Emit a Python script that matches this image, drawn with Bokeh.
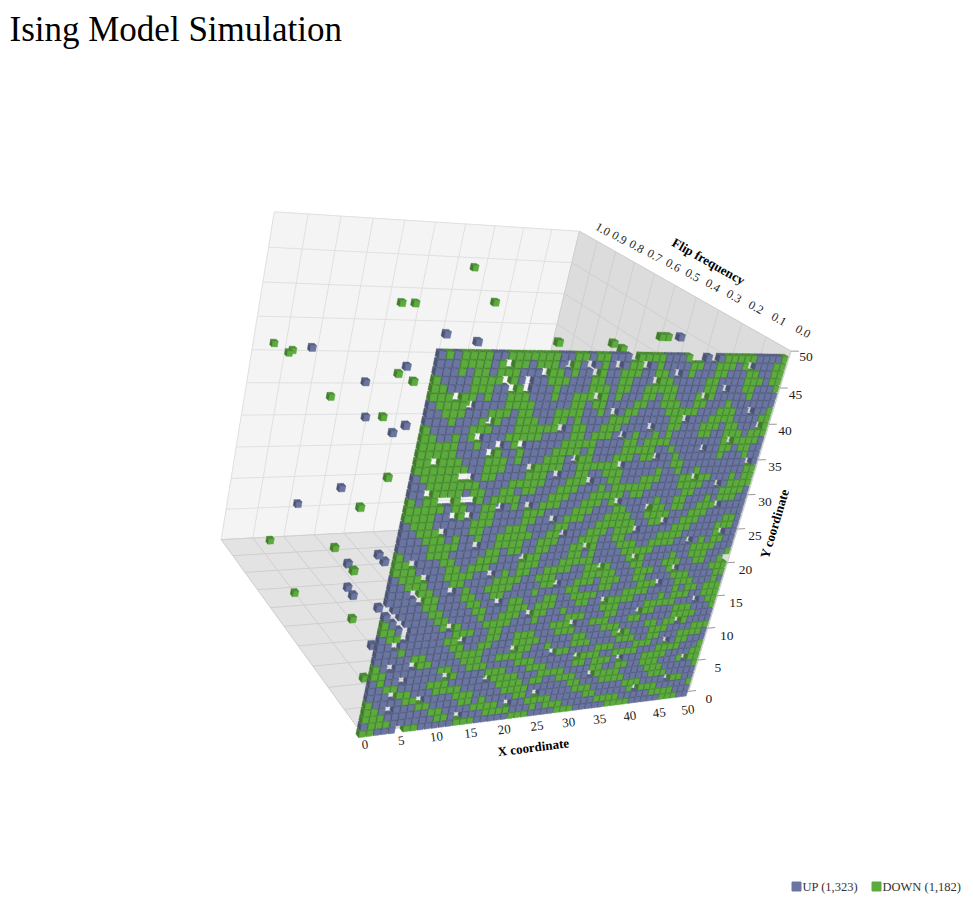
import math
import numpy as np
from bokeh.plotting import figure
from bokeh.models import Range1d, ColumnDataSource
from bokeh.core.properties import value
from bokeh.embed import file_html
from bokeh.resources import INLINE

# ---- data ---------------------------------------------------------------
TITLE = "Ising Model Simulation"
SERIES_NAMES = ["UP", "DOWN"]
SERIES_COUNTS = [1323, 1182]
SPIN_COLORS = {"U": "#6a76a1", "D": "#5bab3d"}

X_TICKS = [0, 5, 10, 15, 20, 25, 30, 35, 40, 45, 50]
Y_TICKS = [0, 5, 10, 15, 20, 25, 30, 35, 40, 45, 50]
Z_TICKS = [0.0, 0.1, 0.2, 0.3, 0.4, 0.5, 0.6, 0.7, 0.8, 0.9, 1.0]

# spin of every lattice site, one string per row, top row (y = 49) first
SPINS = [
    "UDUDDDDUUD DDDDDDUUDD UDDUUUUDDD DUUUDDDUUU DDDDDUUUUD",
    "UUUDDDDUDD DDUDDDUUDU UUDUUUDDDU DUUUUDDUUD DDUDDUUUDD",
    "UUUDUDDUDD DUUUDDDUDU UUDUUDDDUU DDUUUDUUUD DUUUDDUUDD",
    "DUUUUDDDDU DUUUUDDDUU UDDUUDDUUU DDDUUUUUDD UUUUDDDUDD",
    "DDUUUDDDUU DDUUUUDUUU UDDDUDDUUD DDDDUUUUDD UUUUDDUUUD",
    "DDDUDDUDUU DDDUUUDUUD DDDDUDUUUD DUDDUUUDDD UUUUUDUUUU",
    "UDDDDDUUUU DDDDUUUUUD DUDDUUUUDD UUDDDUUDDU UUDUUUUUUU",
    "UUDDDUUUDD DUDDUUUDDD DUUDUUUDDU UUUDDDDDUU UDDDUUUUUD",
    "UUUDUUUDDD UUDDDUUDDU DUUUUDDDUU UUUUDDDUUU DDDDUUUUDD",
    "DUUUUUDDDU UUDDDDDDUU DDUUDDDUUU UUUUDDUUUD DDUDDUUUDD",
    "DDUUDUDDUU UDDDDDUUUU DDUDDDUUUD UUDUDUUUUD DUUDDDUDDD",
    "DDDDDUUDUU UUDDUUUUUD DDDDUUUUDD UDDDDUUUUU UUUDDDDDDU",
    "DDDDDUUUUU DUUDUUUUDD DDUDUUUUDD DDDUUDUUUU UUUDDUDDUU",
    "DDDDDDUUUD DDUDUUUDDD UDDDUUUDDD UDDUUUDUUU UUUDUUUDUU",
    "DDDDDDDUUD DDUUUUDDDD UUDDDDDDUU UUUUUUDDUU UUUUUUUUDU",
    "UDDDDDDDUD DUUUUDDDUU UUDDUUDDDU UUUUDUUDUU DUUUUUUUDD",
    "UUDDDDDDDU UUUDDDDDUU UDDDUUUDDU UUDDDUUUDD DDDUUUDUDD",
    "UUDDDDDUDD UUDDUDDUUU DDDUUUDUDD DDDDUUUUDD DDUUUUDDDD",
    "DUDDDDDUUD UDDDDUUUUD DDUUUDDDDD UDDUUUUUUD DUUUUDDDDU",
    "DDDDDUDDUU DDDUDUUUDD DUUUDDDUDD UUUUUDUUDD UUUDUDDDUU",
    "DDDDUUUDDU DDUUUUDDDU UUUDDDUUUD DUUUDDDUDD UUDDDDUUUU",
    "UDDDUUUUUD DDUUUUDDUU UUDDDUUUDD DDUUDDDDUU UDDDUUUUUU",
    "UUDDDUUUUD DUUUDDDUUU UDDUUUUDDD DDDUUDDUUU DDDUUUUDDU",
    "UUUDDDUDUU DUUDDDDDUU DDDUUUDDDU DDDUUUUUUD DDUUUUDDDU",
    "UUUUDDDDUU UUUDDDDUUD DDUUUDDDUU DDUUUUUDDD DUUUUUDDUU",
    "DUUUDDDUUU UUDDUDDUUD DUUUDDDDUU UDDDUUDDDD UUUUDUDDUU",
    "DDUUUUDDUU UDDDUUUUDD UUUUDDUDUU UUDDDDDUUU UUUDDDDUUU",
    "DDDUUUUDDU DDDUUUUDDD UUUDDDDDUU UUUDDDUUUU DUUDDDUUUD",
    "UDDDUUUDDD DUUUUDUDDU UDDDDUUDDU DUUUDDUUUD DDUUDDUUDD",
    "UUDDDUUUDD UUUUDDDDUU DDDUUUUDDD DDUUUDDDUU DDUUUUUDDD",
    "UUUDDDUUUU DUUDDDDUUU UDDUUUDDDU DDDUUDDUUU UDDDUUUUDD",
    "UUUUDDDUUU DDUUDDUUUU DUUUUDDUUU DDUUUUDDDU UUDDDUUUDU",
    "UUUUUDDUUU UDDUUUUDDU UUDDUUDDDD UUUUDDDDUU UUDUDDUDDD",
    "UUUUUUDDUU UUDDUUUDDD UDDDUUUDDU UUDDDDUUUU DUDDDUUDDD",
    "DUUUUUUDDU UUUDUUDDDU DDDUUDUUUU UDDDUUUUDD DDDUUUUUDD",
    "DDUUUUUUDU DUUUDDDDUU UDUUUUDDDU UUDDUUUDDD UUUDDDUUUD",
    "UDDUUUUUUU DDDUUDDUUU UUUUDDDDUU DDDUUUDDUU UUUDDDDUUU",
    "UUDUUUUUUD DUUUUDDUUD DDUUUDDDUU UUDDDUUUUD DUDDDDUUUU",
    "UUUDUUUUUU DDUUDDUUUD DDDUUUUUDD UUUUDDDUUU DDDUUUUDDD",
    "UUUUUDDUUU UDDDDUUUUD DDUUDUUUDD DUUUUDDDUU DDUUUDDDDU",
    "DUUUUUDDUU UUDDDUUDDD DUUUUDDDUU UUDDDUUUDD DUUUUDDUUU",
    "DDUUUUUUUD DUUDDDUUUU DDDUUUUUUU DDDUUDDDDU UUDDDDUUUD",
    "UDUUUUUUUU DDUUUUDDDU UUDDDUUUUD DUDDDUUUUU DDDDUUUUDD",
    "UUDDUUUUDD DUUUUUUDDD DUUUDDDDUU UUDDUUDDUU DDDUUUDDDD",
    "UUUUDDUUUD DDDUUUUUDD DDUDDUUDDD UUUDDDDUUU UDDDUUUUUD",
    "DUUUUDDDUU UUDDDUUUUD DDDUUUUUUD DUUUDDDDUU UUDDDUUUUU",
    "DDUUUUUDDU UUUDDUDUUU UDDUDUUUUU DDDUUUUUDD DUUUUDDDUU",
    "DDDUUUUUUD DUUUUDDDDU UUUDDDDUUU UUDDUUUUUD DDDDUUUUUD",
    "UDDDUUUUUU DDUUUUUDDD DUUUDUDDDU UUUUDDDDUU UUUDDDDUUU",
    "DDUUUUDDUU UUUDDDUUUU UDDDUUUUDD DUUUUUDDDD UUUUUDDDUU",
]

# sites that flipped often: x, y, flip frequency, spin
flip_x = [24, 10, 12, 9, 12, 2, 5, 4, 2, 10, 9, 7, 7, 6, 8, 8, 6, 7, 5, 4, 2,
          3, 3, 2, 1, 3, 4, 0, 5, 5, 2, 3, 4, 3, 2, 28, 26, 35, 36, 38, 20, 21]
flip_y = [48, 45, 45, 46, 46, 32, 31, 31, 36, 38, 37, 39, 34, 29, 29, 31, 34, 31,
          27, 21, 23, 14, 5, 15, 16, 19, 18, 17, 0, 9, 12, 13, 7, 3, 9, 48, 49,
          49, 49, 49, 48, 47]
flip_freq = [0.71, 0.57, 0.57, 0.29, 0.24, 0.95, 0.95, 0.93, 0.71, 0.48, 0.48,
             0.33, 0.57, 0.71, 0.57, 0.48, 0.29, 0.38, 0.29, 0.48, 0.29, 0.67,
             0.80, 0.38, 0.26, 0.19, 0.19, 0.19, 0.67, 0.38, 0.24, 0.14, 0.29,
             0.14, 0.10, 0.14, 0.05, 0.14, 0.14, 0.14, 0.14, 0.48]
flip_spin = "DDDUU DDDUU DDUDU DUUDU DUDDU UUDDU UUDDU DDDDU DD"

# sites with only a few flips
drift_x = [14, 22, 5, 30, 41, 46, 18, 27, 36, 44, 15, 24, 33, 40, 48, 12, 20,
           29, 37, 45, 10, 17, 26, 34, 42, 49, 8, 15, 23, 31, 39, 46, 11, 19,
           27, 35, 43, 7, 16, 24, 32, 40, 47, 13, 29, 38, 21, 44, 9, 33,
           3, 17, 33, 44, 8, 25, 31, 48, 13, 40, 19, 28, 44, 16, 34, 22, 47,
           13, 29, 41, 20, 37, 9, 25, 36, 45, 20, 10]
drift_y = [47, 44, 43, 46, 45, 42, 40, 39, 41, 38, 35, 33, 36, 33, 35, 30, 28,
           30, 27, 29, 25, 23, 24, 22, 24, 21, 19, 17, 19, 16, 18, 15, 12, 10,
           13, 11, 9, 4, 6, 3, 5, 2, 6, 1, 8, 44, 36, 12, 48, 26,
           44, 48, 47, 48, 41, 42, 40, 40, 38, 37, 34, 35, 32, 30, 29, 26, 25,
           21, 21, 20, 15, 14, 14, 9, 7, 3, 2, 7]
drift_freq = [0.03, 0.04, 0.02, 0.03, 0.05, 0.03, 0.04, 0.02, 0.03, 0.04,
              0.03, 0.05, 0.02, 0.03, 0.04, 0.02, 0.04, 0.03, 0.05, 0.03,
              0.03, 0.02, 0.04, 0.03, 0.02, 0.04, 0.03, 0.05, 0.02, 0.03,
              0.04, 0.03, 0.02, 0.04, 0.03, 0.02, 0.05, 0.03, 0.02, 0.04,
              0.03, 0.02, 0.04, 0.03, 0.02, 0.03, 0.02, 0.03, 0.04, 0.03,
              0.03, 0.02, 0.04, 0.03, 0.02, 0.04, 0.03, 0.02, 0.03, 0.02,
              0.03, 0.04, 0.02, 0.03, 0.04, 0.02, 0.03, 0.04, 0.02, 0.03,
              0.04, 0.02, 0.03, 0.04, 0.03, 0.02, 0.03, 0.04]
drift_spin = ("UDDUD UDUDU DUDUD UDUDU DUDUD UDUDU DUDUD UDUDU DUDUD UUDUD"
              " DUDUU DUUDU DUDUD UDUDU DUDUD UDU")

# ---- camera: where the corners of the 3d box land on the page ------------
BOX_3D = [(0, 0, 0), (50, 0, 0), (50, 50, 0), (0, 50, 0),
          (0, 0, 1), (50, 0, 1), (50, 50, 1), (0, 50, 1)]
BOX_PX = [(362, 729), (695, 695), (786, 353), (437, 340),
          (224, 548), (499, 515), (587, 235), (273, 208)]


def fit_camera():
    A, b = [], []
    for (X, Y, Z), (u, v) in zip(BOX_3D, BOX_PX):
        X, Y = X / 50, Y / 50
        A.append([X, Y, Z, 1, 0, 0, 0, 0, -u * X, -u * Y, -u * Z])
        b.append(u)
        A.append([0, 0, 0, 0, X, Y, Z, 1, -v * X, -v * Y, -v * Z])
        b.append(v)
    m = np.linalg.lstsq(np.array(A, float), np.array(b, float), rcond=None)[0]
    return np.append(m, 1.0).reshape(3, 4)


M = fit_camera()


def proj(x, y, z):
    x = np.asarray(x, float) / 50
    y = np.asarray(y, float) / 50
    z = np.asarray(z, float)
    h0 = M[0, 0] * x + M[0, 1] * y + M[0, 2] * z + M[0, 3]
    h1 = M[1, 0] * x + M[1, 1] * y + M[1, 2] * z + M[1, 3]
    h2 = M[2, 0] * x + M[2, 1] * y + M[2, 2] * z + M[2, 3]
    return h0 / h2, h1 / h2


def depth(x, y, z):
    return M[2, 0] * x / 50 + M[2, 1] * y / 50 + M[2, 2] * z + M[2, 3]


def seg(p0, p1):
    xs, ys = proj([p0[0], p1[0]], [p0[1], p1[1]], [p0[2], p1[2]])
    return list(xs), list(ys)


def screen_angle(p0, p1):
    (x0, x1), (y0, y1) = proj([p0[0], p1[0]], [p0[1], p1[1]], [p0[2], p1[2]])
    return math.atan2(-(y1 - y0), x1 - x0)


def shade(c, k):
    r, g, b = (int(c[i:i + 2], 16) for i in (1, 3, 5))
    return "#%02x%02x%02x" % (int(r * k), int(g * k), int(b * k))


# ---- lattice sites --------------------------------------------------------
freq = {}
for x, y, f, s in zip(drift_x, drift_y, drift_freq, drift_spin.replace(" ", "")):
    freq[(x, y)] = (f, s)
for x, y, f, s in zip(flip_x, flip_y, flip_freq, flip_spin.replace(" ", "")):
    freq[(x, y)] = (f, s)

sites = []
for i, row in enumerate(SPINS):
    y = 49 - i
    for x, s in enumerate(row.replace(" ", "")[:50]):
        f, s = freq.get((x, y), (0.0, s))
        sites.append((x, y, f, s))

# ---- figure (data units = page pixels) ------------------------------------
W, H = 970, 900
p = figure(width=W, height=H, x_range=Range1d(0, W), y_range=Range1d(H, 0),
           x_axis_type=None, y_axis_type=None, toolbar_location=None,
           output_backend="svg", min_border=0, outline_line_color=None)
p.background_fill_color = "white"

# walls
walls = [
    ([(0, 0, 1), (50, 0, 1), (50, 50, 1), (0, 50, 1)], "#f4f4f4"),
    ([(0, 0, 0), (50, 0, 0), (50, 0, 1), (0, 0, 1)], "#e3e3e3"),
    ([(50, 0, 0), (50, 50, 0), (50, 50, 1), (50, 0, 1)], "#dcdcdc"),
]
wx, wy, wc = [], [], []
for pts, col in walls:
    xs, ys = proj(*zip(*pts))
    wx.append(list(xs))
    wy.append(list(ys))
    wc.append(col)
p.patches(wx, wy, fill_color=wc, line_color=wc, line_width=1)

back_lines = ([seg((x, 0, 1), (x, 50, 1)) for x in X_TICKS] +
              [seg((0, y, 1), (50, y, 1)) for y in Y_TICKS])
side_lines = ([seg((x, 0, 0), (x, 0, 1)) for x in X_TICKS] +
              [seg((0, 0, z), (50, 0, z)) for z in Z_TICKS] +
              [seg((50, y, 0), (50, y, 1)) for y in Y_TICKS] +
              [seg((50, 0, z), (50, 50, z)) for z in Z_TICKS])
p.multi_line([s[0] for s in back_lines], [s[1] for s in back_lines],
             line_color="#e0e0e0", line_width=1)
p.multi_line([s[0] for s in side_lines], [s[1] for s in side_lines],
             line_color="#cfcfcf", line_width=1)

# cubes
HALF, HALF_Z = 0.42, 0.008
FACES = [  # corner bits (x, y, z) with outward winding, shade
    (((0, 0, 0), (0, 1, 0), (1, 1, 0), (1, 0, 0)), 1.0),   # front (z min)
    (((0, 0, 1), (1, 0, 1), (1, 1, 1), (0, 1, 1)), 0.6),   # back
    (((0, 0, 0), (0, 0, 1), (0, 1, 1), (0, 1, 0)), 0.72),  # left
    (((1, 0, 0), (1, 1, 0), (1, 1, 1), (1, 0, 1)), 0.72),  # right
    (((0, 0, 0), (1, 0, 0), (1, 0, 1), (0, 0, 1)), 0.8),   # bottom
    (((0, 1, 0), (0, 1, 1), (1, 1, 1), (1, 1, 0)), 0.82),  # top
]


def area(xs, ys):
    return 0.5 * sum(xs[i] * ys[i - 1] - xs[i - 1] * ys[i] for i in range(len(xs)))


sx = np.array([s[0] for s in sites], float)
sy = np.array([s[1] for s in sites], float)
sz = np.array([s[2] for s in sites], float)
far_sign = np.sign(depth(25, 25, 1) - depth(25, 25, 0))
order = np.argsort(-far_sign * depth(sx, sy, sz), kind="stable")

ref = None
cx_all, cy_all, cc_all = [], [], []
for k in order:
    x, y, z, s = sites[k]
    lo = (x - HALF, y - HALF, z - HALF_Z)
    hi = (x + HALF, y + HALF, z + HALF_Z)
    base = SPIN_COLORS[s]
    for corners, sh in FACES:
        px = [hi[0] if c[0] else lo[0] for c in corners]
        py = [hi[1] if c[1] else lo[1] for c in corners]
        pz = [hi[2] if c[2] else lo[2] for c in corners]
        fx, fy = proj(px, py, pz)
        a = area(fx, fy)
        if ref is None:
            ref = np.sign(a)
        if np.sign(a) != ref:
            continue
        col = shade(base, sh)
        cx_all.append(list(fx))
        cy_all.append(list(fy))
        cc_all.append(col)

src = ColumnDataSource(dict(xs=cx_all, ys=cy_all, c=cc_all))
p.patches("xs", "ys", fill_color="c", line_color="c", line_width=0.4, source=src)

# ---- axes -----------------------------------------------------------------
FONT = value("Liberation Serif")

lx, ly = proj([t + 0.9 for t in X_TICKS], [-1.9 - 1.2 * t / 50 for t in X_TICKS],
              [0] * len(X_TICKS))
ang = [screen_angle((t - 1, 0, 0), (t + 1, 0, 0)) for t in X_TICKS]
p.text(list(lx), list(ly), text=[str(t) for t in X_TICKS], angle=ang,
       text_font=FONT, text_font_size="13px", text_color="#222222",
       text_align="center", text_baseline="middle")
tx, ty = proj([26.2], [-5.8], [0])
p.text(list(tx), list(ty), text=["X coordinate"],
       angle=screen_angle((24, 0, 0), (26, 0, 0)),
       text_font=FONT, text_font_size="13px", text_font_style="bold",
       text_color="#000000", text_align="center", text_baseline="middle")

tick_lines = [seg((50, t, 0), (51.3, t, 0)) for t in Y_TICKS]
p.multi_line([s[0] for s in tick_lines], [s[1] for s in tick_lines],
             line_color="#999999", line_width=1)
lx, ly = proj([52.8 + 1.3 * (1 - t / 50) for t in Y_TICKS],
              [t - 0.8 - 0.9 * (1 - t / 50) for t in Y_TICKS], [0] * len(Y_TICKS))
p.text(list(lx), list(ly), text=[str(t) for t in Y_TICKS],
       text_font=FONT, text_font_size="13.5px", text_color="#222222",
       text_align="center", text_baseline="middle")
tx, ty = proj([56.2], [25.5], [0])
p.text(list(tx), list(ty), text=["Y coordinate"],
       angle=screen_angle((50, 23, 0), (50, 25, 0)),
       text_font=FONT, text_font_size="13px", text_font_style="bold",
       text_color="#000000", text_align="center", text_baseline="middle")

lx, ly = proj([51 + 3.2 * t for t in Z_TICKS], [52.65 - 2.1 * t for t in Z_TICKS], Z_TICKS)
ang = [screen_angle((50, 50, t + 0.05), (50, 50, t - 0.05)) for t in Z_TICKS]
p.text(list(lx), list(ly), text=["%.1f" % t for t in Z_TICKS], angle=ang,
       text_font=FONT, text_font_size="12px", text_color="#222222",
       text_align="center", text_baseline="middle")
tx, ty = proj([54.7], [53.7], [0.5])
p.text(list(tx), list(ty), text=["Flip frequency"],
       angle=screen_angle((50, 50, 0.6), (50, 50, 0.5)),
       text_font=FONT, text_font_size="13px", text_font_style="bold",
       text_color="#000000", text_align="center", text_baseline="middle")

# ---- title and legend -----------------------------------------------------
p.text([9], [29], text=[TITLE], text_font=FONT, text_font_size="35px",
       text_color="#000000", text_align="left", text_baseline="alphabetic")

leg_x = [796, 876]
p.scatter(leg_x, [886, 886], marker="square", size=9,
          color=[SPIN_COLORS["U"], SPIN_COLORS["D"]])
p.text([x + 6 for x in leg_x], [886, 886],
       text=["%s (%s)" % (n, format(c, ",")) for n, c in zip(SERIES_NAMES, SERIES_COUNTS)],
       text_font=FONT, text_font_size="12.5px", text_color="#333333",
       text_align="left", text_baseline="middle")

open("out.html", "w").write(file_html(p, INLINE))
